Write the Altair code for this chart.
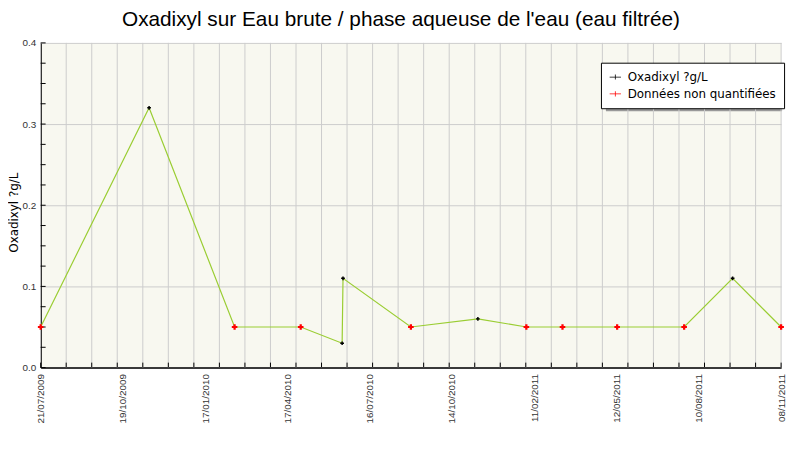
import altair as alt
import pandas as pd

# ---- data ----
sample_dates = ["2009-07-21", "2009-11-21", "2010-02-26", "2010-05-12", "2010-06-28",
                "2010-06-29", "2010-09-14", "2010-11-29", "2011-01-23", "2011-03-05",
                "2011-05-06", "2011-07-21", "2011-09-14", "2011-11-08"]
values = [0.05, 0.32, 0.05, 0.05, 0.03, 0.11, 0.05, 0.06, 0.05, 0.05, 0.05, 0.05, 0.11, 0.05]
quantified = [False, True, False, False, True, True, False, True, False, False,
              False, False, True, False]
tick_labels = ["21/07/2009", "19/10/2009", "17/01/2010", "17/04/2010", "16/07/2010",
               "14/10/2010", "11/02/2011", "12/05/2011", "10/08/2011", "08/11/2011"]
series_names = ["Oxadixyl ?g/L", "Données non quantifiées"]
title_text = "Oxadixyl sur Eau brute / phase aqueuse de l'eau (eau filtrée)"
y_title = "Oxadixyl ?g/L"

start = pd.Timestamp("2009-07-21")
end = pd.Timestamp("2011-11-08")
span = (end - start).days
n_major = len(tick_labels) - 1
n_minor = 29
major_vals = [i * span / n_major for i in range(n_major + 1)]
minor_vals = [i * span / n_minor for i in range(n_minor + 1)]
y_minor = [i * 0.025 for i in range(17)]

df = pd.DataFrame({
    "day": [(pd.Timestamp(d) - start).days for d in sample_dates],
    "value": values,
    "series": [series_names[0] if q else series_names[1] for q in quantified],
})
df_xt = pd.DataFrame({"day": minor_vals})
df_yt = pd.DataFrame({"value": y_minor})
df_one = pd.DataFrame({"k": [0]})

W, H = 748, 328
FONT = "Liberation Sans"

xscale = alt.Scale(domain=[0, span], nice=False, zero=False)
yscale = alt.Scale(domain=[0, 0.4], nice=False)

label_js = "[" + ",".join("'" + s + "'" for s in tick_labels) + "]"
is_major_y = "abs(datum.value*10 - round(datum.value*10)) < 0.001"

x_axis = alt.Axis(values=major_vals, labelAngle=-90, ticks=False, grid=False,
                  labelExpr=label_js + "[round(datum.value / " + str(span / n_major) + ")]",
                  labelFont=FONT, labelFontSize=10, labelColor="#333333",
                  labelPadding=6, domainColor="black", domainWidth=1.5, title=None,
                  labelOverlap=False, labelBound=False, labelFlush=False)
y_axis = alt.Axis(values=y_minor, ticks=False, format=".1f",
                  labelExpr=is_major_y + " ? datum.label : ''",
                  gridColor="#cccccc",
                  gridOpacity=alt.condition(is_major_y, alt.value(1), alt.value(0)),
                  labelFont=FONT, labelFontSize=10, labelColor="#333333", labelPadding=5,
                  domainColor="black", domainWidth=1.5,
                  title=y_title, titleFont="DejaVu Sans", titleFontSize=12,
                  titleFontWeight="normal", titleColor="black",
                  titleX=-27, titleY=171, titleAngle=-90, titleAlign="center",
                  titleBaseline="middle")

X = alt.X("day:Q", scale=xscale, axis=x_axis)
Y = alt.Y("value:Q", scale=yscale, axis=y_axis)

vgrid = alt.Chart(df_xt).mark_rule(color="#cccccc", strokeWidth=1).encode(x=X)
xticks = alt.Chart(df_xt).mark_rule(color="black", strokeWidth=1).encode(
    x=X, y=alt.value(H - 5), y2=alt.value(H))
yticks = alt.Chart(df_yt).mark_rule(color="black", strokeWidth=1).encode(
    y=Y, x=alt.value(0), x2=alt.value(5))

line = alt.Chart(df).mark_line(color="#9acd32", strokeWidth=1.2).encode(
    x=X, y=Y, order="day:Q")

legend_symbol = "M-1,-0.06H1V0.06H-1Z M-0.07,-0.45H0.07V0.45H-0.07Z"
color = alt.Color("series:N",
                  scale=alt.Scale(domain=series_names, range=["black", "#ff0000"]),
                  legend=alt.Legend(title=None, orient="none", legendX=566, legendY=20,
                                    fillColor="white", strokeColor="black", padding=8,
                                    labelFont="DejaVu Sans", labelFontSize=12,
                                    labelColor="black", symbolType=legend_symbol,
                                    symbolSize=130, symbolOpacity=1,
                                    rowPadding=4, labelOffset=6))

pts_q = alt.Chart(df).transform_filter(
    alt.datum.series == series_names[0]).mark_point(
    shape="cross", filled=True, opacity=1, size=14).encode(x=X, y=Y, color=color)
pts_nq = alt.Chart(df).transform_filter(
    alt.datum.series == series_names[1]).mark_point(
    shape="cross", filled=True, opacity=1, size=32).encode(x=X, y=Y, color=color)

# legend drop shadow (decoration only, positioned by mark properties)
shadow = alt.Chart(df_one).mark_rect(
    x=571, x2=749, y=25, y2=69, color="#999999", opacity=1).encode(
    fillOpacity=alt.value(1))

chart = alt.layer(shadow, vgrid, xticks, yticks, line, pts_q, pts_nq).properties(
    width=W, height=H,
    title=alt.TitleParams(title_text, font=FONT, fontSize=21, fontWeight="normal",
                          color="black", anchor="middle", frame="group", dx=-10, offset=8),
    autosize=alt.AutoSizeParams(type="none"),
    padding={"left": 33, "top": 33, "right": 11, "bottom": 81},
    background="white",
).configure_view(fill="#f8f8f0", stroke=None)

chart.save("out.html", embed_options={"renderer": "svg", "actions": False})
